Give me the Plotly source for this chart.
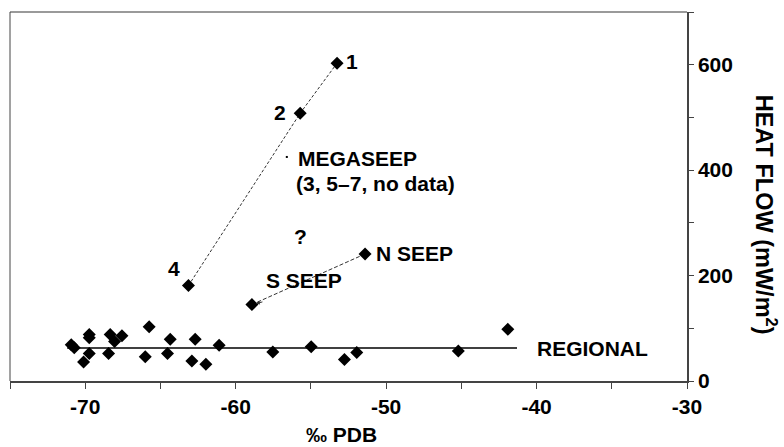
import plotly.graph_objects as go

# ---- data ----
regional_x = [-70.93, -70.73, -69.73, -69.73, -69.73, -70.11, -68.45, -68.34, -68.05, -67.56,
              -65.75, -66.01, -64.35, -64.53, -62.69, -62.91, -61.98, -61.10, -57.53, -54.98,
              -52.77, -51.95, -45.20, -41.91]
regional_y = [69, 63, 88, 82, 52, 36, 52, 88, 75, 86,
              103, 46, 79, 52, 79, 38, 32, 68, 55, 65,
              41, 54, 57, 98]
regional_line_x = [-71.2, -41.3]
regional_mean = [62.5, 62.5]

megaseep_x = [-63.14, -55.71, -53.26]   # sites 4, 2, 1
megaseep_y = [181, 508, 603]
megaseep_labels = ["4", "2", "1"]
megaseep_ref_x = [-56.6]
megaseep_ref_y = [425]

seep_x = [-58.92, -51.40]   # S seep, N seep
seep_y = [145, 241]

x_ticks = [-70, -60, -50, -40, -30]
x_ticktext = ["-70", "-60", "-50", "-40", "-30"]
y_ticks = [0, 200, 400, 600]
y_ticktext = ["0", "200", "400", "600"]

FONT = "Liberation Sans, Arial, sans-serif"
BLACK = "#000000"

fig = go.Figure()

fig.add_trace(go.Scatter(x=regional_line_x, y=regional_mean, mode="lines",
                         line=dict(color=BLACK, width=1.5), hoverinfo="skip"))
fig.add_trace(go.Scatter(x=megaseep_x, y=megaseep_y, mode="lines",
                         line=dict(color="#333333", width=1, dash="3px,2px"), hoverinfo="skip"))
fig.add_trace(go.Scatter(x=seep_x, y=seep_y, mode="lines",
                         line=dict(color="#333333", width=1, dash="4px,2px"), hoverinfo="skip"))
mk = dict(symbol="diamond", size=10, color=BLACK)
fig.add_trace(go.Scatter(x=regional_x, y=regional_y, mode="markers", marker=mk))
fig.add_trace(go.Scatter(x=megaseep_x, y=megaseep_y, mode="markers", marker=mk))
fig.add_trace(go.Scatter(x=seep_x, y=seep_y, mode="markers", marker=mk))
fig.add_trace(go.Scatter(x=megaseep_ref_x, y=megaseep_ref_y, mode="markers",
                         marker=dict(symbol="square", size=2, color=BLACK)))

tf = dict(family=FONT, size=21, color=BLACK, weight="bold")

def lab(text, x, y, xanchor="center"):
    fig.add_annotation(x=x, y=y, text=text, showarrow=False,
                       xanchor=xanchor, yanchor="middle", font=tf)

lab(megaseep_labels[2], -52.26, 607)
lab(megaseep_labels[1], -57.04, 510)
lab(megaseep_labels[0], -64.09, 213)
lab("MEGASEEP", -56.0, 423, "left")
lab("(3, 5\u20137, no data)", -56.1, 374, "left")
lab("?", -55.71, 274)
lab("N SEEP", -50.8, 241, "left")
lab("S SEEP", -58.1, 190, "left")
lab("REGIONAL", -40.1, 61, "left")

# small arrow toward S seep
fig.add_annotation(x=seep_x[0], y=seep_y[0], ax=12, ay=-3, axref="pixel", ayref="pixel",
                   text="", showarrow=True, arrowhead=2, arrowsize=0.8, arrowwidth=1,
                   arrowcolor="#333333", standoff=4)

# axis titles
fig.add_annotation(x=0.49, y=-0.146, xref="paper", yref="paper", xanchor="center", yanchor="middle",
                   text="\u2030 PDB", showarrow=False, font=tf)
fig.add_annotation(x=1.117, y=0.45, xref="paper", yref="paper", textangle=90,
                   xanchor="center", yanchor="middle",
                   text="HEAT FLOW (mW/m<sup>2</sup>)", showarrow=False,
                   font=dict(family=FONT, size=23.5, color=BLACK, weight="bold"))

# top frame line
fig.add_shape(type="line", xref="paper", yref="paper", x0=0, x1=1, y0=1, y1=1,
              line=dict(color="#9a9a9a", width=2))
# left frame line
fig.add_shape(type="line", xref="paper", yref="paper", x0=0, x1=0, y0=0, y1=1,
              line=dict(color="#444444", width=1))

fig.update_layout(
    width=784, height=447,
    margin=dict(l=10, r=97, t=12, b=66),
    paper_bgcolor="white", plot_bgcolor="white",
    showlegend=False,
    xaxis=dict(range=[-75, -30], tickvals=x_ticks, ticktext=x_ticktext,
               ticks="outside", ticklen=6, tickcolor="#444444", tickwidth=1,
               minor=dict(dtick=5, tick0=-75, ticks="outside", ticklen=6, tickcolor="#444444"),
               showline=True, linecolor="#444444", linewidth=1.5, showgrid=False, zeroline=False,
               tickfont=tf),
    yaxis=dict(range=[0, 700], side="right", tickvals=y_ticks, ticktext=y_ticktext,
               ticks="outside", ticklen=5, tickcolor="#444444",
               minor=dict(dtick=100, ticks="outside", ticklen=5, tickcolor="#444444"),
               showline=True, linecolor="#444444", linewidth=1.5, showgrid=False, zeroline=False,
               tickfont=tf),
)

fig.write_html("out.html")
